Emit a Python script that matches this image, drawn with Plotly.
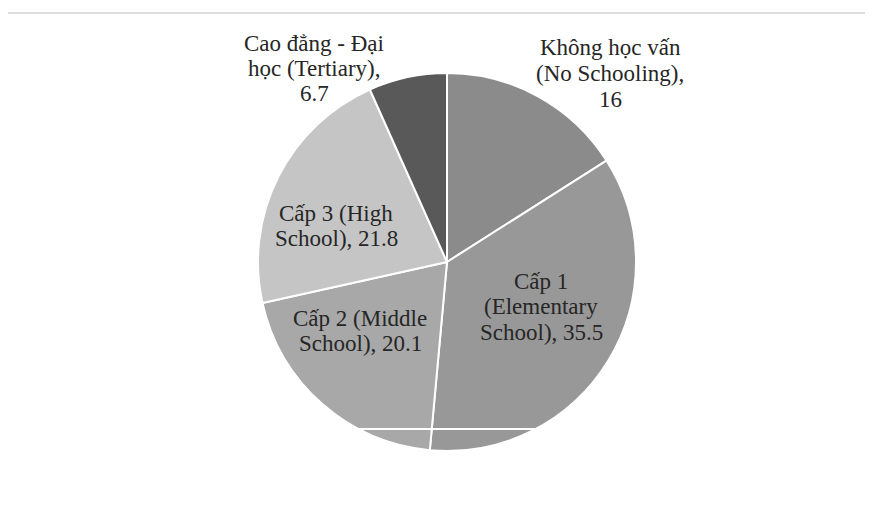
import plotly.graph_objects as go

categories = ["Không học vấn (No Schooling)", "Cấp 1 (Elementary School)",
              "Cấp 2 (Middle School)", "Cấp 3 (High School)", "Cao đẳng - Đại học (Tertiary)"]
values = [16, 35.5, 20.1, 21.8, 6.7]
value_labels = ["16", "35.5", "20.1", "21.8", "6.7"]
# displayed label lines (text wrapping as in the reference); "{v}" is replaced by the value
label_lines = [
    ["Không học vấn", "(No Schooling),", "{v}"],
    ["Cấp 1", "(Elementary", "School), {v}"],
    ["Cấp 2 (Middle", "School), {v}"],
    ["Cấp 3 (High", "School), {v}"],
    ["Cao đẳng - Đại", "học (Tertiary),", "{v}"],
]
colors = ["#8b8b8b", "#989898", "#a8a8a8", "#c5c5c5", "#595959"]

W, H = 873, 507
cx, cy, r = 439, 254, 189
FONT = "Liberation Serif"

fig = go.Figure(go.Pie(
    labels=categories, values=values, sort=False, direction="clockwise", rotation=0,
    marker=dict(colors=colors, line=dict(color="white", width=2)),
    textinfo="none", hoverinfo="label+value", showlegend=False,
    domain=dict(x=[(cx - r) / W, (cx + r) / W], y=[(H - cy - r) / H, (H - cy + r) / H]),
))

# label block positions in figure pixels: (centre x, centre y of first line)
label_pos = [(602, 40), (533, 273), (352, 310), (328, 205), (306, 35)]
line_gap = 25.5
for lines, v, (px, py) in zip(label_lines, value_labels, label_pos):
    for k, ln in enumerate(lines):
        fig.add_annotation(x=px / W, y=1 - (py + k * line_gap) / H, xref="paper", yref="paper",
                           text=ln.replace("{v}", v), showarrow=False,
                           xanchor="center", yanchor="middle",
                           font=dict(family=FONT, size=23, color="#262626"))

# scan artifacts: faint top rule and seam near the bottom of the pie
fig.add_shape(type="line", xref="paper", yref="paper", x0=0, x1=1,
              y0=1 - 5 / H, y1=1 - 5 / H, line=dict(color="#dcdcdc", width=2))
fig.add_shape(type="line", xref="paper", yref="paper", x0=330 / W, x1=550 / W,
              y0=1 - 421 / H, y1=1 - 421 / H, line=dict(color="white", width=2), layer="above")

fig.update_layout(width=W, height=H, margin=dict(l=0, r=0, t=0, b=0),
                  font=dict(family=FONT, size=23, color="#262626"),
                  paper_bgcolor="white", plot_bgcolor="white")
fig.write_html("out.html")
